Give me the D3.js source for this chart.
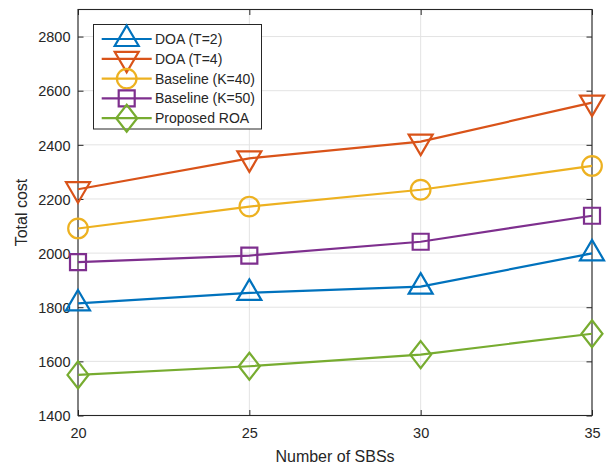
<!DOCTYPE html>
<html>
<head>
<meta charset="utf-8">
<script src="https://cdn.jsdelivr.net/npm/d3@7/dist/d3.min.js"></script>
<style>
body{margin:0;background:#fff;}
svg{display:block;font-family:"Liberation Sans",Arial,Helvetica,sans-serif;}
</style>
</head>
<body>
<svg id="chart" width="610" height="466"></svg>
<script>
const xValues = [20, 25, 30, 35];
const xTicks = [20, 25, 30, 35];
const yTicks = [1400, 1600, 1800, 2000, 2200, 2400, 2600, 2800];
const seriesNames = ["DOA (T=2)", "DOA (T=4)", "Baseline (K=40)", "Baseline (K=50)", "Proposed ROA"];
const doaT2 = [1814, 1853, 1876, 1999];
const doaT4 = [2236, 2350, 2412, 2556];
const baseK40 = [2091, 2172, 2234, 2322];
const baseK50 = [1967, 1991, 2042, 2138];
const roa = [1550, 1582, 1625, 1702];

const series = [
  {name: seriesNames[0], values: doaT2, color: "#0072BD", marker: "triUp"},
  {name: seriesNames[1], values: doaT4, color: "#D95319", marker: "triDown"},
  {name: seriesNames[2], values: baseK40, color: "#EDB120", marker: "circle"},
  {name: seriesNames[3], values: baseK50, color: "#7E2F8E", marker: "square"},
  {name: seriesNames[4], values: roa, color: "#77AC30", marker: "diamond"}
];

const svg = d3.select("#chart");
const L = 78, R = 592, T = 9.5, B = 415.5;
const x = d3.scaleLinear().domain([20, 35]).range([L, R]);
const y = d3.scaleLinear().domain([1400, 2900]).range([B, T]);
const axisColor = "#262626";

// grid
const g = svg.append("g");
g.selectAll(".gx").data(xTicks).enter().append("line")
  .attr("x1", d => x(d)).attr("x2", d => x(d)).attr("y1", T).attr("y2", B)
  .attr("stroke", "#e3e3e3").attr("stroke-width", 1);
g.selectAll(".gy").data(yTicks).enter().append("line")
  .attr("y1", d => y(d)).attr("y2", d => y(d)).attr("x1", L).attr("x2", R)
  .attr("stroke", "#e3e3e3").attr("stroke-width", 1);

// axes via d3
const tickLen = 5.5;
const xAxisB = d3.axisBottom(x).tickValues(xTicks).tickSize(-tickLen).tickPadding(10).tickFormat(d3.format("d"));
const xAxisT = d3.axisTop(x).tickValues(xTicks).tickSize(-tickLen).tickFormat("");
const yAxisL = d3.axisLeft(y).tickValues(yTicks).tickSize(-tickLen).tickPadding(8).tickFormat(d3.format("d"));
const yAxisR = d3.axisRight(y).tickValues(yTicks).tickSize(-tickLen).tickFormat("");

function styleAxis(sel){
  sel.select(".domain").attr("stroke", axisColor).attr("stroke-width", 1.1);
  sel.selectAll(".tick line").attr("stroke", axisColor).attr("stroke-width", 1);
  sel.selectAll(".tick text").attr("fill", axisColor).style("font-size", "14.5px")
     .style("font-family", '"Liberation Sans",Arial,sans-serif');
}
const gxB = svg.append("g").attr("transform", `translate(0,${B})`).call(xAxisB).call(styleAxis);
gxB.selectAll(".tick text").attr("dy", "0.71em").attr("y", 12);
svg.append("g").attr("transform", `translate(0,${T})`).call(xAxisT).call(styleAxis);
const gyL = svg.append("g").attr("transform", `translate(${L},0)`).call(yAxisL).call(styleAxis);
gyL.selectAll(".tick text").attr("x", -7.5).attr("dy", "0.36em");
svg.append("g").attr("transform", `translate(${R},0)`).call(yAxisR).call(styleAxis);
svg.selectAll(".domain").attr("d", null);
// box
svg.append("rect").attr("x", L).attr("y", T).attr("width", R - L).attr("height", B - T)
  .attr("fill", "none").attr("stroke", axisColor).attr("stroke-width", 1.1);

// axis titles
svg.append("text").attr("x", (L + R) / 2).attr("y", 461.5).attr("text-anchor", "middle")
  .attr("fill", axisColor).style("font-size", "16px").text("Number of SBSs");
svg.append("text").attr("transform", `translate(27,${(T + B) / 2}) rotate(-90)`)
  .attr("text-anchor", "middle").attr("fill", axisColor).style("font-size", "16px").text("Total cost");

// markers
function markerPath(type){
  switch(type){
    case "triUp": return "M0,-13.5L12,7L-12,7Z";
    case "triDown": return "M0,13.5L12,-7L-12,-7Z";
    case "square": return "M-8,-8L8,-8L8,8L-8,8Z";
    case "diamond": return "M0,-13.5L10.5,0L0,13.5L-10.5,0Z";
  }
  return null;
}
function drawMarker(sel, s, cx, cy){
  if (s.marker === "circle") {
    sel.append("circle").attr("cx", cx).attr("cy", cy).attr("r", 9.8)
      .attr("fill", "none").attr("stroke", s.color).attr("stroke-width", 2.2);
  } else {
    sel.append("path").attr("d", markerPath(s.marker)).attr("transform", `translate(${cx},${cy})`)
      .attr("fill", "none").attr("stroke", s.color).attr("stroke-width", 2.2).attr("stroke-linejoin", "miter");
  }
}

const line = d3.line().x((d, i) => x(xValues[i])).y(d => y(d));
const dataG = svg.append("g");
series.forEach(s => {
  dataG.append("path").datum(s.values).attr("d", line)
    .attr("fill", "none").attr("stroke", s.color).attr("stroke-width", 2.2);
  s.values.forEach((v, i) => drawMarker(dataG, s, x(xValues[i]), y(v)));
});

// legend
const lg = svg.append("g");
lg.append("rect").attr("x", 93.5).attr("y", 24.5).attr("width", 168).attr("height", 104.5)
  .attr("fill", "#fff").attr("stroke", axisColor).attr("stroke-width", 1);
const rowY = [39, 58.8, 78.6, 98.4, 118.2];
series.forEach((s, i) => {
  const ry = rowY[i];
  lg.append("line").attr("x1", 101.7).attr("x2", 151.7).attr("y1", ry).attr("y2", ry)
    .attr("stroke", s.color).attr("stroke-width", 2.2);
  drawMarker(lg, s, 126.7, ry);
  lg.append("text").attr("x", 155).attr("y", ry).attr("dy", "0.36em")
    .attr("fill", axisColor).style("font-size", "14px").text(s.name);
});
</script>
</body>
</html>
